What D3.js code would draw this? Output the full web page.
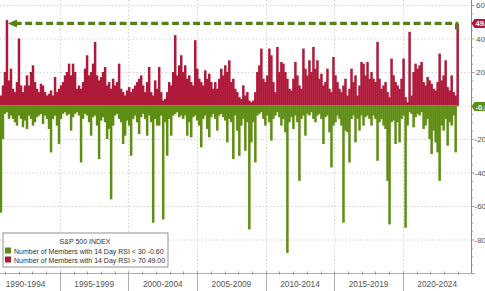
<!DOCTYPE html>
<html>
<head>
<meta charset="utf-8">
<script src="https://cdn.jsdelivr.net/npm/d3@7"></script>
<style>
  body { margin: 0; background: #fff; }
  svg { display: block; font-family: "Liberation Sans", Arial, sans-serif; }
</style>
</head>
<body>
<svg id="chart" width="485" height="291"></svg>
<script>
/*
  S&P 500 members overbought / oversold (14 day RSI), Bloomberg style.
*/
var startYear = 1990.7, stepYears = 0.146;

// members with RSI > 70
var overbought = [
  6,12,20,51,15,22,10,8,14,40,12,8,12,18,12,20,24,14,10,8,13,12,8,6,7,9,6,17,8,10,12,14,18,20,25,18,25,20,10,12,
  10,14,22,30,18,20,25,38,18,15,17,20,23,12,14,10,16,12,14,25,10,8,6,9,11,8,10,12,14,16,18,12,8,14,23,8,6,15,10,
  23,8,3,4,8,14,12,20,42,18,24,30,20,24,16,18,14,12,39,22,16,14,12,21,16,19,14,10,14,10,16,22,18,24,20,27,14,16,10,
  8,5,4,12,6,8,3,2,3,8,20,24,34,16,14,18,34,30,14,8,35,20,26,25,20,16,10,9,16,26,18,12,10,34,22,18,27,20,35,
  22,27,16,19,12,14,22,10,8,29,18,14,10,8,12,16,6,10,22,14,18,6,12,26,25,18,26,16,20,16,14,38,16,10,12,14,8,5,28,
  18,14,12,10,16,28,5,2,44,6,20,25,22,24,26,14,12,17,15,13,10,9,14,31,15,18,27,11,9,18,8,6,49
];

// members with RSI < 30 (plotted negative)
var oversold = [
  -64,-20,-5,-4,-8,-6,-8,-10,-12,-6,-8,-13,-9,-14,-6,-8,-12,-10,-7,-6,-5,-11,-6,-8,-14,-28,-8,-6,-12,-23,-8,-5,-4,-6,-5,-15,-7,-5,-4,-6,
  -34,-8,-5,-6,-10,-18,-7,-6,-12,-32,-9,-7,-10,-20,-14,-56,-12,-6,-5,-8,-10,-23,-18,-9,-12,-30,-8,-6,-10,-17,-7,-5,-8,-18,-6,-10,-70,-8,-12,
  -12,-6,-68,-10,-30,-8,-18,-6,-5,-4,-7,-6,-8,-6,-18,-10,-19,-7,-6,-9,-12,-25,-8,-6,-14,-19,-7,-5,-8,-15,-6,-5,-7,-9,-22,-8,-10,-32,-6,
  -15,-30,-12,-8,-27,-10,-74,-22,-10,-34,-6,-5,-4,-8,-12,-6,-10,-21,-8,-6,-4,-7,-12,-8,-16,-88,-10,-7,-14,-6,-10,-45,-8,-6,-18,-5,-6,-4,-8,
  -10,-6,-5,-8,-23,-7,-6,-16,-37,-12,-10,-6,-8,-12,-70,-15,-16,-34,-8,-6,-22,-8,-15,-6,-12,-7,-6,-8,-12,-6,-8,-33,-10,-8,-12,-14,-45,-71,-10,
  -9,-23,-10,-22,-8,-6,-73,-12,-4,-5,-13,-7,-5,-6,-4,-14,-12,-8,-20,-29,-15,-22,-28,-45,-12,-15,-8,-24,-10,-12,-6,-28,-0.6
];

var periods = ["1990-1994", "1995-1999", "2000-2004", "2005-2009", "2010-2014", "2015-2019", "2020-2024"];
var periodStarts = [1990, 1995, 2000, 2005, 2010, 2015, 2020, 2025];
var yTicks = [60, 40, 20, 0, -20, -40, -60, -80];
var legendTitle = "S&P 500 INDEX";
var legendNames = ["Number of Members with 14 Day RSI < 30", "Number of Members with 14 Day RSI > 70"];
var lastValues = ["-0.60", "49.00"];

var RED = "#b01a3a", GREEN = "#5f8e14", ARROW = "#56801a";

var svg = d3.select("#chart");
var W = 485, H = 291, axisX = 471.5, bottom = 273;

var x = d3.scaleLinear().domain([1990, 2025]).range([-8.7, axisX]);
var y = d3.scaleLinear().domain([-100, 63]).range([bottom, 0]);

function yearOf(i) { return startYear + i * stepYears; }

// grid
var grid = svg.append("g").attr("stroke", "#bbb").attr("stroke-width", 0.8).attr("stroke-dasharray", "1.2,2.4");
grid.selectAll("line.h").data(yTicks).enter().append("line")
  .attr("x1", 0).attr("x2", axisX).attr("y1", function(d) { return y(d) + 0.5; }).attr("y2", function(d) { return y(d) + 0.5; });
grid.selectAll("line.v").data(periodStarts.slice(1, -1)).enter().append("line")
  .attr("y1", 0).attr("y2", bottom).attr("x1", function(d) { return Math.round(x(d)) + 0.5; }).attr("x2", function(d) { return Math.round(x(d)) + 0.5; });

// bars (slightly overlapping so the base reads as a solid fill)
svg.append("g").selectAll("rect").data(overbought).enter().append("rect")
  .attr("x", function(d, i) { return x(yearOf(i)) - 1.2; })
  .attr("width", 2.5)
  .attr("y", function(d) { return y(d); })
  .attr("height", function(d) { return y(0) - y(d); })
  .attr("fill", RED);
svg.append("g").selectAll("rect").data(oversold).enter().append("rect")
  .attr("x", function(d, i) { return x(yearOf(i)) - 1.2; })
  .attr("width", 2.5)
  .attr("y", y(0))
  .attr("height", function(d) { return y(d) - y(0); })
  .attr("fill", GREEN);

// dashed arrow from the latest reading back to the 1991 peak
var lastI = overbought.length - 1;
var peakI = overbought.indexOf(d3.max(overbought.slice(0, 20)));
var ay = y(overbought[lastI]);
svg.append("path")
  .attr("d", "M" + (x(yearOf(lastI)) - 1) + "," + (ay + 6) + "V" + ay + "H" + (x(yearOf(peakI)) + 9))
  .attr("fill", "none").attr("stroke", ARROW).attr("stroke-width", 3.2).attr("stroke-dasharray", "7,3.5");
var tipX = x(yearOf(peakI)) + 1;
svg.append("path")
  .attr("d", "M" + tipX + "," + ay + "L" + (tipX + 9) + "," + (ay - 4) + "L" + (tipX + 9) + "," + (ay + 4) + "Z")
  .attr("fill", ARROW);

// right axis (the 0 label sits under the last-value tag, so it is left out)
var ax = svg.append("g").attr("font-size", 8).attr("fill", "#555");
ax.append("line").attr("x1", axisX).attr("x2", axisX).attr("y1", 0).attr("y2", bottom).attr("stroke", "#888").attr("stroke-width", 1);
ax.selectAll("line.minor").data(d3.range(-100, 61, 5)).enter().append("line")
  .attr("x1", axisX).attr("x2", function(d) { return axisX + (d % 20 === 0 ? 3 : 1.5); })
  .attr("y1", function(d) { return y(d) + 0.5; }).attr("y2", function(d) { return y(d) + 0.5; })
  .attr("stroke", "#888").attr("stroke-width", 0.8);
ax.selectAll("text").data(yTicks.filter(function(d) { return d !== 0; })).enter().append("text")
  .attr("x", function(d) { return d < 0 ? 474.5 : 476; })
  .attr("y", function(d) { return y(d) + 3; })
  .text(function(d) { return d; });

// last value tags (cut by the right edge, as in the source)
var tags = [{ v: overbought[lastI], t: lastValues[1], c: RED }, { v: oversold[lastI], t: lastValues[0], c: GREEN }];
var tg = svg.append("g").selectAll("g").data(tags).enter().append("g")
  .attr("transform", function(d) { return "translate(" + axisX + "," + y(d.v) + ")"; });
tg.append("path").attr("d", "M0,0L3,-4.5H20V4.5H3Z").attr("fill", function(d) { return d.c; });
tg.append("text").attr("x", 4).attr("y", 3).attr("font-size", 7.5).attr("font-weight", "bold").attr("fill", "#fff")
  .text(function(d) { return d.t; });

// bottom time axis
var bx = svg.append("g");
bx.append("line").attr("x1", 0).attr("x2", axisX).attr("y1", bottom + 0.5).attr("y2", bottom + 0.5).attr("stroke", "#999").attr("stroke-width", 0.8);
bx.selectAll("line.yr").data(d3.range(1991, 2025)).enter().append("line")
  .attr("x1", function(d) { return Math.round(x(d)) + 0.5; }).attr("x2", function(d) { return Math.round(x(d)) + 0.5; })
  .attr("y1", bottom - 1.5).attr("y2", bottom + 1.5).attr("stroke", "#888").attr("stroke-width", 0.8);
bx.selectAll("line.sep").data(periodStarts.slice(1, -1)).enter().append("line")
  .attr("x1", function(d) { return Math.round(x(d)) + 0.5; }).attr("x2", function(d) { return Math.round(x(d)) + 0.5; })
  .attr("y1", bottom).attr("y2", H).attr("stroke", "#999").attr("stroke-width", 0.8);
bx.selectAll("text").data(periods).enter().append("text")
  .attr("x", function(d, i) { return (x(periodStarts[i]) + x(periodStarts[i + 1])) / 2; })
  .attr("y", 287).attr("text-anchor", "middle").attr("font-size", 8.3).attr("fill", "#555")
  .text(function(d) { return d; });

// legend
var lg = svg.append("g").attr("transform", "translate(3,233)");
lg.append("rect").attr("width", 165).attr("height", 34).attr("fill", "#fff").attr("stroke", "#777").attr("stroke-width", 0.8);
lg.append("text").attr("x", 82).attr("y", 11).attr("text-anchor", "middle").attr("font-size", 7).attr("fill", "#333").text(legendTitle);
var li = lg.selectAll("g.it").data(legendNames).enter().append("g")
  .attr("transform", function(d, i) { return "translate(2," + (14.5 + i * 9) + ")"; });
li.append("rect").attr("width", 6).attr("height", 6).attr("fill", function(d, i) { return i === 0 ? GREEN : RED; });
li.append("text").attr("x", 9).attr("y", 6).attr("font-size", 7).attr("fill", "#333")
  .text(function(d, i) { return d + " " + lastValues[i]; });
</script>
</body>
</html>
